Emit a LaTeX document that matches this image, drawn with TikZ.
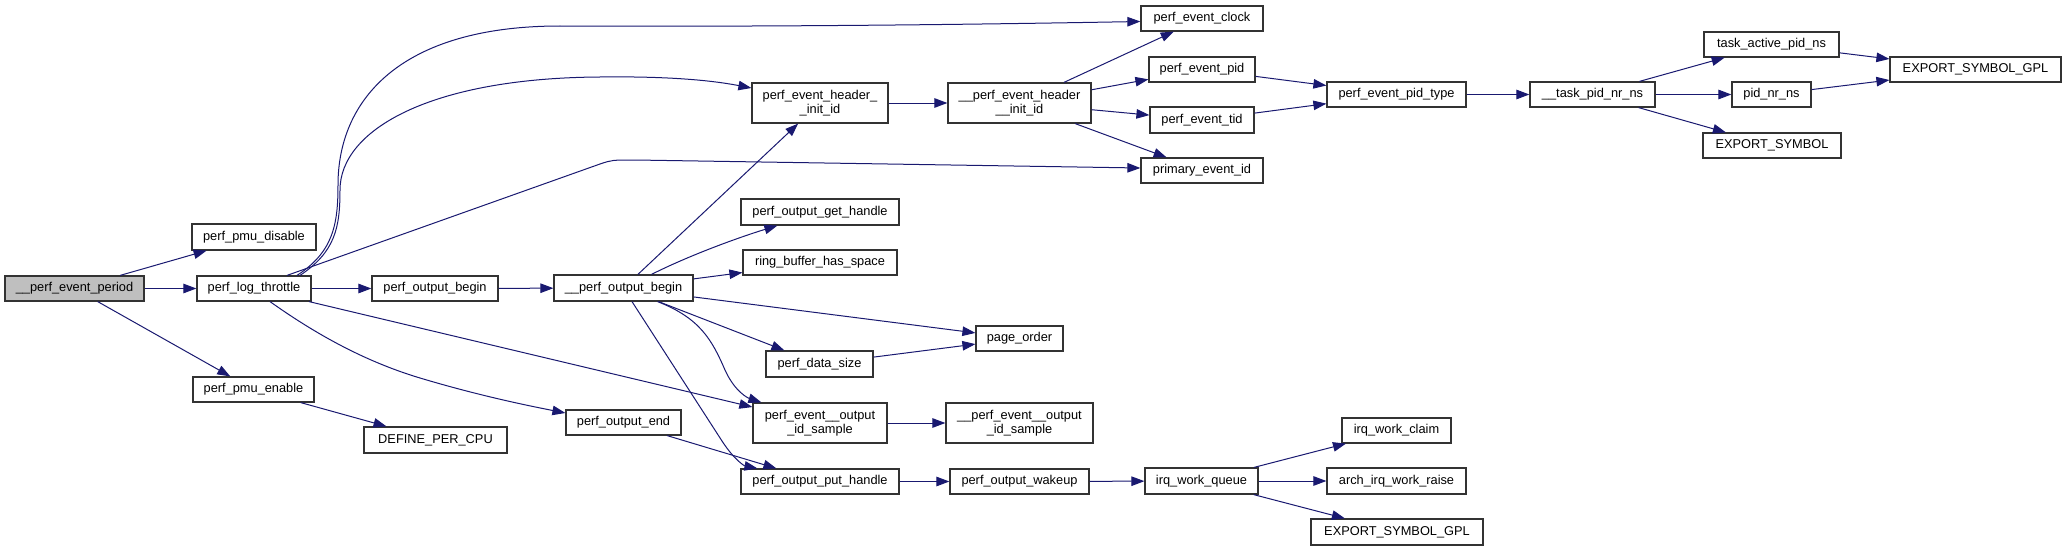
\documentclass[tikz,border=0pt]{standalone}
\usepackage{fontspec}
\setmainfont{Liberation Sans}
\usetikzlibrary{arrows.meta}
\definecolor{edgec}{HTML}{191970}
\definecolor{boxc}{HTML}{333333}
\definecolor{rootc}{HTML}{BFBFBF}
\begin{document}
\begin{tikzpicture}[x=1pt,y=-1pt,
  box/.style={draw=boxc, line width=1.2pt, inner sep=0pt, fill=white,
    font=\fontsize{12.8}{14}\selectfont, align=center},
  e/.style={draw=edgec, line width=1pt, -{Triangle[length=13pt,width=9.5pt]}},
]
\useasboundingbox (0,0) rectangle (2067,551);

% nodes
\node[box, fill=rootc, minimum width=139pt, minimum height=25pt] (per) at (74.5,288.5) {\_\_perf\_event\_period};
\node[box, minimum width=124pt, minimum height=26pt] (dis) at (254,237) {perf\_pmu\_disable};
\node[box, minimum width=114pt, minimum height=25pt] (thr) at (254,288.5) {perf\_log\_throttle};
\node[box, minimum width=121pt, minimum height=25pt] (ena) at (253.5,389.5) {perf\_pmu\_enable};
\node[box, minimum width=126pt, minimum height=25pt] (ob) at (435,288.5) {perf\_output\_begin};
\node[box, minimum width=143pt, minimum height=26pt] (dpc) at (435.5,440) {DEFINE\_PER\_CPU};
\node[box, minimum width=139pt, minimum height=26pt] (uob) at (623.5,288) {\_\_perf\_output\_begin};
\node[box, minimum width=136pt, minimum height=40pt] (hid) at (820,103) {perf\_event\_header\_\\\_init\_id};
\node[box, minimum width=143pt, minimum height=40pt] (uhid) at (1019.5,103) {\_\_perf\_event\_header\\\_\_init\_id};
\node[box, minimum width=158pt, minimum height=26pt] (gh) at (820,212) {perf\_output\_get\_handle};
\node[box, minimum width=154pt, minimum height=25pt] (rb) at (820,262.5) {ring\_buffer\_has\_space};
\node[box, minimum width=87pt, minimum height=25pt] (po) at (1019.5,338.5) {page\_order};
\node[box, minimum width=107pt, minimum height=26pt] (ds) at (819.5,364) {perf\_data\_size};
\node[box, minimum width=134pt, minimum height=40pt] (ois) at (820,423) {perf\_event\_\_output\\\_id\_sample};
\node[box, minimum width=147pt, minimum height=40pt] (uois) at (1019.5,423) {\_\_perf\_event\_\_output\\\_id\_sample};
\node[box, minimum width=115pt, minimum height=25pt] (oe) at (623.5,422.5) {perf\_output\_end};
\node[box, minimum width=158pt, minimum height=25pt] (ph) at (820,481.5) {perf\_output\_put\_handle};
\node[box, minimum width=139pt, minimum height=25pt] (wk) at (1019.5,481.5) {perf\_output\_wakeup};
\node[box, minimum width=113pt, minimum height=26pt] (iq) at (1201.5,481) {irq\_work\_queue};
\node[box, minimum width=109pt, minimum height=25pt] (ic) at (1396.5,430.5) {irq\_work\_claim};
\node[box, minimum width=139pt, minimum height=26pt] (ar) at (1396.5,481) {arch\_irq\_work\_raise};
\node[box, minimum width=172pt, minimum height=26pt] (gplb) at (1397,532) {EXPORT\_SYMBOL\_GPL};
\node[box, minimum width=122pt, minimum height=25pt] (clk) at (1202,18.5) {perf\_event\_clock};
\node[box, minimum width=106pt, minimum height=25pt] (pid) at (1202,69.5) {perf\_event\_pid};
\node[box, minimum width=104pt, minimum height=26pt] (tid) at (1202,120) {perf\_event\_tid};
\node[box, minimum width=122pt, minimum height=25pt] (pri) at (1202,170.5) {primary\_event\_id};
\node[box, minimum width=139pt, minimum height=25pt] (pt) at (1396.5,94.5) {perf\_event\_pid\_type};
\node[box, minimum width=125pt, minimum height=25pt] (tpn) at (1592.5,94.5) {\_\_task\_pid\_nr\_ns};
\node[box, minimum width=135pt, minimum height=25pt] (tap) at (1771.5,44.5) {task\_active\_pid\_ns};
\node[box, minimum width=79pt, minimum height=25pt] (pnn) at (1771.5,94.5) {pid\_nr\_ns};
\node[box, minimum width=138pt, minimum height=25pt] (es) at (1772,145.5) {EXPORT\_SYMBOL};
\node[box, minimum width=171pt, minimum height=25pt] (gplt) at (1975.5,69.5) {EXPORT\_SYMBOL\_GPL};

% straight edges
\foreach \a/\b in {per/dis, per/thr, per/ena, ena/dpc, thr/ob, thr/ois, ob/uob,
  uob/hid, uob/rb, uob/po, uob/ds, hid/uhid, uhid/clk, uhid/pid, uhid/tid, uhid/pri,
  pid/pt, tid/pt, pt/tpn, tpn/tap, tpn/pnn, tpn/es, tap/gplt, pnn/gplt, ds/po,
  ois/uois, oe/ph, ph/wk, wk/iq, iq/ic, iq/ar, iq/gplb}
  \draw[e] (\a) -- (\b);

% curved edges
\draw[e] ([xshift=43pt]thr.north) .. controls (333,252) and (338,225) .. (338,185)
  .. controls (338,100) and (400,26) .. (560,26)
  .. controls (800,27) and (1000,24) .. ([yshift=-3pt]clk.west);
\draw[e] ([xshift=46pt]thr.north) .. controls (335,252) and (340,228) .. (340,190)
  .. controls (340,130) and (430,78) .. (600,77)
  .. controls (680,76) and (720,82) .. ([yshift=15pt]hid.west);
\draw[e] ([xshift=33pt]thr.north) -- (600,164) .. controls (612,160) .. (635,160)
  -- ([yshift=2.5pt]pri.west);
\draw[e] ([xshift=16pt]thr.south) .. controls (310,330) and (360,360) .. (420,378)
  .. controls (480,396) and (530,406) .. ([yshift=9.5pt]oe.west);
\draw[e] ([xshift=34pt]uob.south) .. controls (700,318) and (712,340) .. (725,370)
  .. controls (735,392) and (748,398) .. ([xshift=9pt]ois.north west);
\draw[e] ([xshift=8.5pt]uob.south) -- (722,441) .. controls (735,461) and (745,466)
  .. ([xshift=17pt]ph.north west);
\draw[e] ([xshift=28pt]uob.north) .. controls (690,255) and (740,237)
  .. ([xshift=37pt]gh.south west);
\end{tikzpicture}
\end{document}
